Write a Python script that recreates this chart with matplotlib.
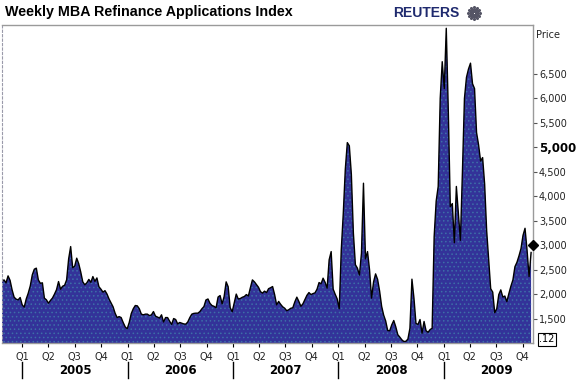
import matplotlib
matplotlib.use("Agg")
import matplotlib.pyplot as plt
import matplotlib.dates as mdates
import matplotlib.transforms as mtransforms
import numpy as np
import pandas as pd

# weekly MBA refinance index (first week ending 2004-10-22)
start_date = "2004-10-22"
refi_index = [
    2256, 2290, 2230, 2372, 2280, 2086, 1937, 1896, 1882, 1930,
    1780, 1733, 1900, 2019, 2168, 2393, 2509, 2530, 2290, 2220,
    2230, 1917, 1882, 1814, 1870, 1920, 2000, 2090, 2256, 2100,
    2160, 2180, 2290, 2720, 2971, 2540, 2570, 2734, 2620, 2450,
    2250, 2190, 2230, 2300, 2240, 2358, 2260, 2330, 2150, 2100,
    2040, 2070, 2000, 1900, 1820, 1740, 1610, 1520, 1540, 1520,
    1420, 1330, 1290, 1420, 1600, 1700, 1766, 1760, 1700, 1590,
    1576, 1590, 1590, 1560, 1575, 1643, 1550, 1530, 1510, 1576,
    1430, 1520, 1520, 1445, 1380, 1500, 1480, 1390, 1420, 1405,
    1390, 1385, 1430, 1520, 1590, 1605, 1610, 1610, 1643, 1700,
    1745, 1880, 1900, 1810, 1765, 1750, 1720, 1940, 1970, 1800,
    1950, 2250, 2150, 1720, 1640, 1820, 2000, 1900, 1910, 1935,
    1950, 1990, 1960, 2130, 2290, 2250, 2195, 2140, 2050, 2019,
    2060, 2030, 2110, 2130, 2154, 1990, 1780, 1850, 1790, 1740,
    1710, 1660, 1680, 1710, 1720, 1840, 1937, 1850, 1750, 1800,
    1890, 1975, 2031, 1990, 2010, 2025, 2100, 2236, 2210, 2325,
    2240, 2121, 2700, 2869, 2100, 1995, 1900, 1700, 2900, 3650,
    4550, 5096, 5030, 4450, 3250, 2600, 2530, 2390, 2836, 4266,
    2720, 2869, 2500, 1917, 2250, 2413, 2300, 2060, 1750, 1570,
    1450, 1255, 1250, 1371, 1460, 1330, 1170, 1120, 1065, 1030,
    1035, 1080, 1300, 2305, 1917, 1400, 1380, 1480, 1201, 1440,
    1250, 1220, 1275, 1300, 3175, 3900, 4200, 6000, 6750, 6200,
    7433, 5764, 3788, 3850, 3050, 4200, 3650, 3100, 4500, 6000,
    6430, 6600, 6720, 6300, 6200, 5300, 5050, 4720, 4790, 4250,
    3300, 2700, 2110, 2040, 1620, 1700, 1990, 2086, 1940, 1960,
    1847, 2010, 2160, 2290, 2560, 2650, 2780, 2930, 3200, 3345,
    2904, 2358, 2850,
]

years = [2005, 2006, 2007, 2008, 2009]
quarter_labels = ["Q1", "Q2", "Q3", "Q4"]
y_ticks = [1500, 2000, 2500, 3000, 3500, 4000, 4500, 5000, 5500, 6000, 6500]

W, H = 578, 380
fig = plt.figure(figsize=(W / 100, H / 100), dpi=100)
ax = fig.add_axes([2 / W, 1 - 343 / H, 530.7 / W, 318 / H])

dates = pd.date_range(start_date, periods=len(refi_index), freq="7D")
xs = mdates.date2num(dates.to_pydatetime())

plt.rcParams["hatch.linewidth"] = 0.6
ax.fill_between(xs, refi_index, 1000, facecolor="#333399", edgecolor="#3d6fa8",
                hatch="....", linewidth=0)
ax.plot(xs, refi_index, color="black", lw=1.0)

ax.set_xlim(xs[0], xs[0] + 262.8 * 7)
ax.set_ylim(1000, 7500)

# frame
for side in ["top", "right", "bottom"]:
    ax.spines[side].set_color("#9a9a9a")
    ax.spines[side].set_linewidth(1)
ax.spines["left"].set_color("#9a9aaa")
ax.spines["left"].set_linestyle((0, (2, 2)))

# right price axis
ax.yaxis.tick_right()
ax.set_yticks(y_ticks)
ax.set_yticklabels([f"{v:,}" for v in y_ticks])
ax.tick_params(axis="y", length=3, color="#555555", labelsize=7, pad=1.5,
               labelcolor="#222222")
for lab in ax.get_yticklabels():
    if lab.get_text() == "5,000":
        lab.set_fontweight("bold")
        lab.set_fontsize(8.5)
        lab.set_color("black")

fig.text(536 / W, 1 - 35 / H, "Price", fontsize=7, va="center", ha="left",
         color="#222222")

# quarter ticks
qdates = [pd.Timestamp(y, m, 1) for y in years for m in (1, 4, 7, 10)]
ax.set_xticks(mdates.date2num([d.to_pydatetime() for d in qdates]))
ax.set_xticklabels(quarter_labels * len(years))
ax.tick_params(axis="x", length=3, color="black", labelsize=7, pad=3.5,
               labelcolor="#222222")

# year labels and separators
trans = mtransforms.blended_transform_factory(ax.transData, ax.transAxes)
for yr in years:
    x0 = mdates.date2num(pd.Timestamp(yr, 1, 1).to_pydatetime())
    xm = mdates.date2num(pd.Timestamp(yr, 7, 2).to_pydatetime())
    ax.plot([x0, x0], [-0.06, -0.11], transform=trans, color="black", lw=1,
            clip_on=False)
    ax.text(xm, -0.085, str(yr), transform=trans, ha="center", va="center",
            fontsize=8.5, fontweight="bold")

# last value marker
ax.plot([ax.get_xlim()[1]], [refi_index[-1] + 150], marker="D", ms=5,
        color="black", clip_on=False, zorder=5)

ax.text(1.012, 0.012, ".12", transform=ax.transAxes, fontsize=7, va="center",
        ha="left", bbox=dict(boxstyle="square,pad=0.15", fc="white", ec="black",
                             lw=0.8))

# title and logo
fig.text(5 / W, 1 - 12 / H, "Weekly MBA Refinance Applications Index",
         fontsize=10.3, fontweight="bold", family="Liberation Sans", va="center")
fig.text(393 / W, 1 - 13 / H, "REUTERS", fontsize=10, fontweight="bold",
         family="Liberation Sans", color="#1f2a6e", va="center")
ang = np.linspace(0, 2 * np.pi, 12, endpoint=False)
for r in (2.0, 4.0, 6.0):
    fig.lines.append(plt.Line2D((474 + r * np.cos(ang)) / W,
                                1 - (13 + r * np.sin(ang)) / H,
                                transform=fig.transFigure, ls="none",
                                marker="o", ms=1.2, color="#555566"))

fig.savefig("out.png", dpi=100)
